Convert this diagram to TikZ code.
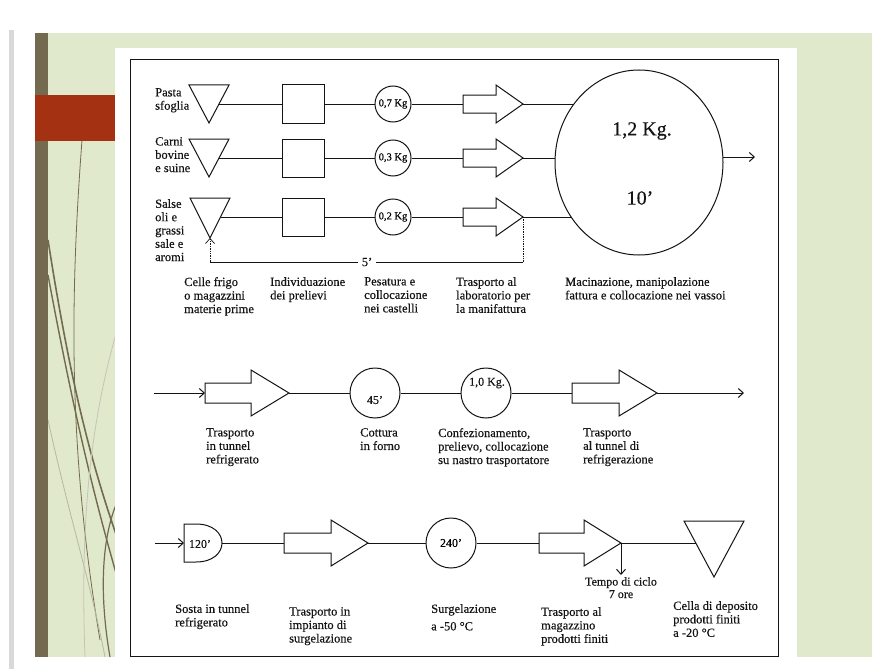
\documentclass[tikz,border=0pt]{standalone}
\usepackage{fontspec}
\setmainfont{Liberation Serif}[FakeBold=0.35]
\usetikzlibrary{arrows.meta,shapes.geometric}
\definecolor{slidegreen}{HTML}{E0E9CB}
\definecolor{barbrown}{HTML}{736A4F}
\definecolor{rust}{HTML}{A33112}
\definecolor{ink}{HTML}{141414}
\tikzset{
  shp/.style={draw=ink, line width=1pt, fill=white},
  conn/.style={draw=ink, line width=1pt},
  tipA/.style={-{Straight Barb[length=5pt,width=9pt]}},
  lbl/.style={font=\fontsize{12.5}{13.5}\selectfont, align=left, anchor=north west, inner sep=0pt, text=ink},
  leftlbl/.style={lbl, font=\fontsize{12.5}{13.3}\selectfont},
  sq/.style={shp, rectangle, minimum width=42pt, minimum height=38pt, inner sep=0pt},
  scirc/.style={shp, circle, minimum size=36pt, inner sep=0pt, font=\fontsize{10.5}{11}\selectfont},
  mcirc/.style={shp, circle, minimum size=50pt, inner sep=0pt, font=\fontsize{12}{12}\selectfont},
  intext/.style={inner sep=0pt, text=ink},
  pics/barrow/.style n args={4}{code={
    \draw[shp] (0,{-#3}) -- (#1,{-#3}) -- (#1,{-#4}) -- ({#1+#2},0) -- (#1,#4) -- (#1,#3) -- (0,#3) -- cycle;
    \coordinate (-tail) at (0,0);
    \coordinate (-tip) at ({#1+#2},0);
  }},
  pics/tri/.style n args={3}{code={
    \draw[shp] ({-#1/2},0) -- ({#1/2},0) -- (0,#2) -- cycle;
    \coordinate (-apex) at (0,#2);
    \coordinate (-east) at ({#1/2*(1-#3/#2)},#3);
    \coordinate (-west) at ({-#1/2*(1-#3/#2)},#3);
  }},
  pics/delay/.style n args={2}{code={
    \draw[shp] (0,{-#2}) -- (12,{-#2}) .. controls ({(#1-3)/0.75},{-#2}) and ({(#1-3)/0.75},#2) .. (12,#2) -- (0,#2) -- cycle;
    \coordinate (-west) at (0,0);
    \coordinate (-east) at (#1,0);
  }},
}
\begin{document}
\begin{tikzpicture}[x=1pt,y=-1pt]
\useasboundingbox (0,0) rectangle (881,669);
\fill[white] (0,0) rectangle (881,669);
% slide background
\fill[gray!30] (9,30) rectangle (14,669);
\fill[slidegreen] (35,33) rectangle (872,657);
\begin{scope}
  \clip (48,33) rectangle (115,657);
  \draw[barbrown, line width=0.8pt] (82,140) .. controls (70,300) and (68,450) .. (100,640);
  \draw[barbrown, line width=1.6pt] (48,240) .. controls (70,380) and (90,460) .. (118,540);
  \draw[barbrown, line width=1.4pt] (48,275) .. controls (75,420) and (95,500) .. (118,580);
  \draw[barbrown!50, line width=0.8pt] (48,420) .. controls (70,520) and (90,580) .. (105,657);
  \draw[barbrown!40, line width=0.8pt] (120,320) .. controls (90,420) and (80,520) .. (85,657);
  \draw[barbrown, line width=1.2pt] (118,500) .. controls (100,540) and (100,600) .. (110,657);
\end{scope}
\fill[barbrown] (35,33) rectangle (48,657);
\fill[rust] (35,95) rectangle (115,141);
\fill[white] (115,48) rectangle (797,657);
\draw[ink, line width=1pt] (130,60) rectangle (778,656);

% ---------- top section ----------
\node[leftlbl] (lp) at (155,88) {Pasta\\sfoglia};
\node[leftlbl] (lc) at (155,137) {Carni\\bovine\\e suine};
\node[leftlbl] (ls) at (155,199) {Salse\\oli e\\grassi\\sale e\\aromi};

\pic (t1) at (209,85) {tri={40}{38}{19}};
\pic (t2) at (209,139) {tri={40}{38}{19}};
\pic (t3) at (210,198) {tri={40}{40}{19}};

\node[sq] (s1) at (303,104) {};
\node[sq] (s2) at (303,158) {};
\node[sq] (s3) at (303,217) {};

\node[scirc] (c1) at (393,104) {0,7 Kg};
\node[scirc] (c2) at (393,158) {0,3 Kg};
\node[scirc] (c3) at (393,217) {0,2 Kg};

\pic (a1) at (463,104) {barrow={33}{27}{9}{19}};
\pic (a2) at (463,158) {barrow={33}{27}{9}{19}};
\pic (a3) at (463,217) {barrow={33}{27}{9}{19}};

\node[shp, ellipse, minimum width=168pt, minimum height=185pt, inner sep=0pt] (big) at (639,162.5) {};
\node[intext, font=\fontsize{20}{21}\selectfont] (bigkg) at (642,131) {1,2 Kg.};
\node[intext, font=\fontsize{20}{21}\selectfont] (bigt) at (640,198) {10'};
\coordinate (bigout) at (755,157);

\draw[conn] (t1-east) -- (s1);
\draw[conn] (t2-east) -- (s2);
\draw[conn] (t3-east) -- (s3);
\draw[conn] (s1) -- (c1);
\draw[conn] (s2) -- (c2);
\draw[conn] (s3) -- (c3);
\draw[conn] (c1) -- (a1-tail);
\draw[conn] (c2) -- (a2-tail);
\draw[conn] (c3) -- (a3-tail);
\draw[conn] (a1-tip) -- (a1-tip -| big.138);
\draw[conn] (a2-tip) -- (a2-tip -| big.177);
\draw[conn] (a3-tip) -- (a3-tip -| big.219);
\draw[conn, tipA] (bigout -| big.4) -- (bigout);

% feedback 5'
\coordinate (fb) at (367,262);
\draw[conn, line width=0.7pt, densely dotted] (a3-tip) -- (a3-tip |- fb);
\draw[conn] (a3-tip |- fb) -- (t3-apex |- fb);
\draw[conn, line width=0.7pt, densely dotted, tipA] (t3-apex |- fb) -- (t3-apex);
\node[fill=white, inner xsep=4pt, inner ysep=1pt, font=\fontsize{12.5}{13}\selectfont, text=ink] (five) at (fb) {5'};

\node[lbl] (l1) at (184,277) {Celle frigo\\o magazzini\\materie prime};
\node[lbl] (l2) at (270,277) {Individuazione\\dei prelievi};
\node[lbl] (l3) at (364,277) {Pesatura e\\collocazione\\nei castelli};
\node[lbl] (l4) at (456,277) {Trasporto al\\laboratorio per\\la manifattura};
\node[lbl] (l5) at (565,277) {Macinazione, manipolazione\\fattura e collocazione nei vassoi};

% ---------- middle row ----------
\coordinate (bstart) at (154,393);
\pic (b1) at (205,393) {barrow={46}{38}{10}{23}};
\node[mcirc] (b2) at (375,393) {};
\node[intext, font=\fontsize{12}{12}\selectfont] (b2t) at (375,400) {45'};
\node[mcirc] (b3) at (486,393) {};
\node[intext, font=\fontsize{12}{12}\selectfont] (b3t) at (487,383) {1,0 Kg.};
\pic (b4) at (572,393) {barrow={47}{38}{10}{23}};
\coordinate (bend) at (744,393);
\draw[conn, tipA] (bstart) -- (b1-tail);
\draw[conn] (b1-tip) -- (b2);
\draw[conn] (b2) -- (b3);
\draw[conn] (b3) -- (b4-tail);
\draw[conn, tipA] (b4-tip) -- (bend);

\node[lbl] (m1) at (206,428) {Trasporto\\in tunnel\\refrigerato};
\node[lbl] (m2) at (360,428) {Cottura\\in forno};
\node[lbl] (m3) at (438,428) {Confezionamento,\\prelievo, collocazione\\su nastro trasportatore};
\node[lbl] (m4) at (583,428) {Trasporto\\al tunnel di\\refrigerazione};

% ---------- bottom row ----------
\coordinate (cstart) at (155,543);
\pic (d1) at (184,543) {delay={38}{19}};
\node[intext, font=\fontsize{12}{12}\selectfont] (d1t) at (200,544) {120'};
\pic (e1) at (284,543) {barrow={47}{37}{10}{23}};
\node[mcirc] (e2) at (451,543) {240'};
\pic (e3) at (539,543) {barrow={45}{37}{10}{23}};
\pic (t4) at (714,521) {tri={60}{56}{22}};
\coordinate (cyc) at (621,575);
\draw[conn, tipA] (cstart) -- (d1-west);
\draw[conn] (d1-east) -- (e1-tail);
\draw[conn] (e1-tip) -- (e2);
\draw[conn] (e2) -- (e3-tail);
\draw[conn] (e3-tip) -- (t4-west);
\draw[conn, tipA] (e3-tip) -- (e3-tip |- cyc);
\node[lbl, align=center, anchor=north, font=\fontsize{12}{12.5}\selectfont] (cyclbl) at (621,577) {Tempo di ciclo\\7 ore};

\node[lbl] (n1) at (175,604) {Sosta in tunnel\\refrigerato};
\node[lbl] (n2) at (289,607) {Trasporto in\\impianto di\\surgelazione};
\node[lbl] (n3) at (431,604) {Surgelazione\\[4pt]a -50 °C};
\node[lbl] (n4) at (541,607) {Trasporto al\\magazzino\\prodotti finiti};
\node[lbl] (n5) at (673,601) {Cella di deposito\\prodotti finiti\\a -20 °C};
\end{tikzpicture}
\end{document}
